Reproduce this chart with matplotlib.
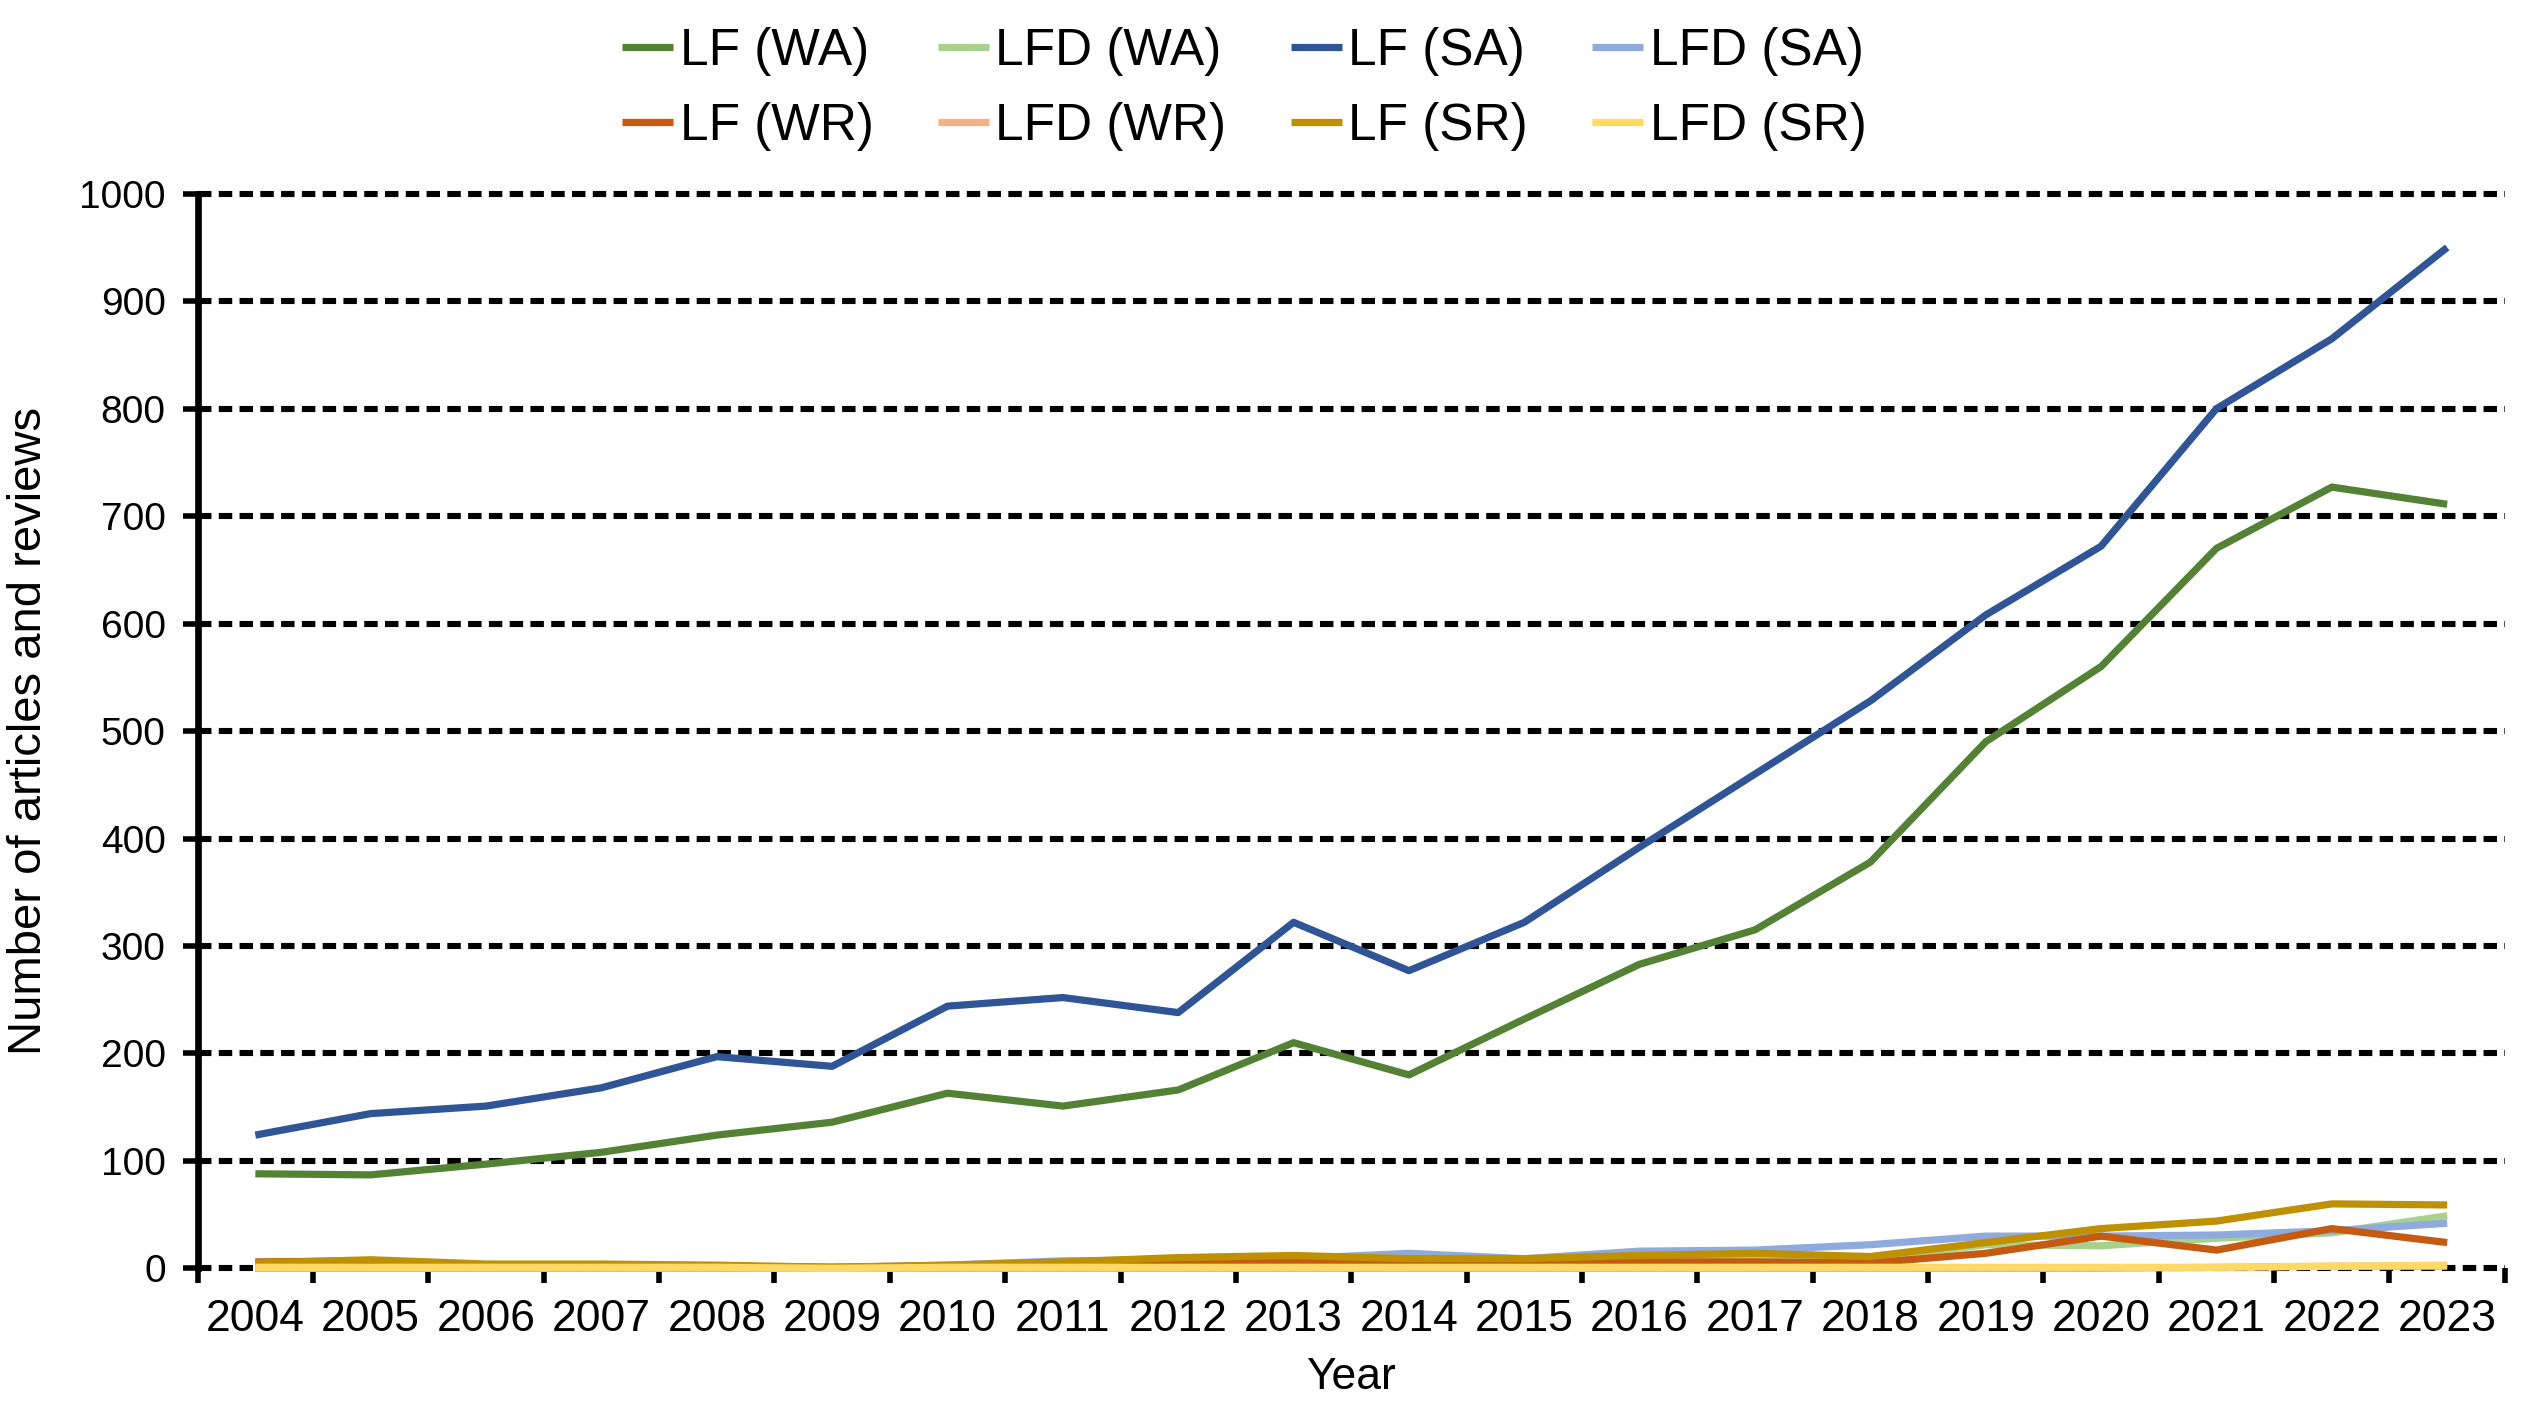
import matplotlib
matplotlib.use("Agg")
from matplotlib import pyplot as plt
import numpy as np

plt.rcParams['font.family'] = ['Liberation Sans', 'DejaVu Sans']

years = [str(y) for y in range(2004, 2024)]

lf_wa = [88, 87, 97, 108, 124, 136, 163, 151, 166, 210, 180, 232, 283, 315, 378, 490, 560, 670, 727, 711]
lfd_wa = [0, 0, 0, 1, 1, 0, 2, 3, 4, 5, 6, 7, 10, 11, 9, 22, 21, 28, 33, 49]
lf_sa = [124, 144, 151, 168, 197, 188, 244, 252, 238, 322, 277, 322, 392, 460, 528, 608, 672, 800, 865, 950]
lfd_sa = [1, 1, 1, 2, 2, 1, 3, 7, 8, 9, 14, 9, 16, 17, 22, 30, 30, 31, 35, 42]
lf_wr = [6, 7, 3, 3, 2, 1, 2, 3, 5, 6, 5, 5, 6, 6, 5, 14, 30, 17, 37, 24]
lfd_wr = [0, 0, 0, 0, 0, 0, 0, 0, 0, 0, 0, 0, 0, 0, 0, 0, 0, 1, 2, 2]
lf_sr = [5, 8, 4, 4, 3, 1, 3, 6, 10, 12, 9, 9, 12, 14, 11, 24, 37, 44, 60, 59]
lfd_sr = [1, 1, 1, 1, 1, 0, 1, 1, 1, 1, 1, 1, 1, 1, 1, 1, 1, 1, 2, 3]

series = [
    ("LF (WA)", lf_wa, "#548235"),
    ("LFD (WA)", lfd_wa, "#A9D18E"),
    ("LF (SA)", lf_sa, "#2F5597"),
    ("LFD (SA)", lfd_sa, "#8FAADC"),
    ("LF (WR)", lf_wr, "#C55A11"),
    ("LFD (WR)", lfd_wr, "#F4B183"),
    ("LF (SR)", lf_sr, "#BF9000"),
    ("LFD (SR)", lfd_sr, "#FFD966"),
]

fig = plt.figure(figsize=(12.67, 7.07), dpi=200)
ax = fig.add_axes([0.078, 0.103, 0.9105, 0.76])

x = np.arange(len(years))

# dashed horizontal grid, drawn unclipped so 0 and 1000 show fully
for yv in range(0, 1001, 100):
    ax.axhline(yv, color="black", lw=2.2, ls=(0, (2.2, 1.2)), clip_on=False, zorder=1)

handles = {}
for name, vals, col in series:
    ln, = ax.plot(x, vals, color=col, lw=2.6, solid_capstyle="butt", clip_on=False, zorder=3, label=name)
    handles[name] = ln

ax.set_xlim(-0.5, len(years) - 0.5)
ax.set_ylim(0, 1000)
ax.set_yticks(range(0, 1001, 100))
ax.tick_params(axis="y", labelsize=14, length=5.5, width=2.0, direction="out", pad=6)

ax.set_xticks(x)
ax.set_xticklabels(years)
ax.set_xticks(np.arange(-0.5, len(years)), minor=True)
ax.tick_params(axis="x", which="major", length=0, labelsize=16, pad=11)
ax.tick_params(axis="x", which="minor", length=5.5, width=2.0, direction="out")

for s in ["top", "right", "bottom"]:
    ax.spines[s].set_visible(False)
ax.spines["left"].set_linewidth(2.4)

ax.set_xlabel("Year", fontsize=16, labelpad=6)
ax.set_ylabel("Number of articles and reviews", fontsize=17, labelpad=10)

order = ["LF (WA)", "LF (WR)", "LFD (WA)", "LFD (WR)", "LF (SA)", "LF (SR)", "LFD (SA)", "LFD (SR)"]
fig.legend([handles[n] for n in order], order, loc="center", bbox_to_anchor=(0.491, 0.937),
           ncol=4, frameon=False, fontsize=18.5, handlelength=1.0, handletextpad=0.12,
           columnspacing=1.25, labelspacing=0.5)

plt.savefig("out.png", dpi=200)
